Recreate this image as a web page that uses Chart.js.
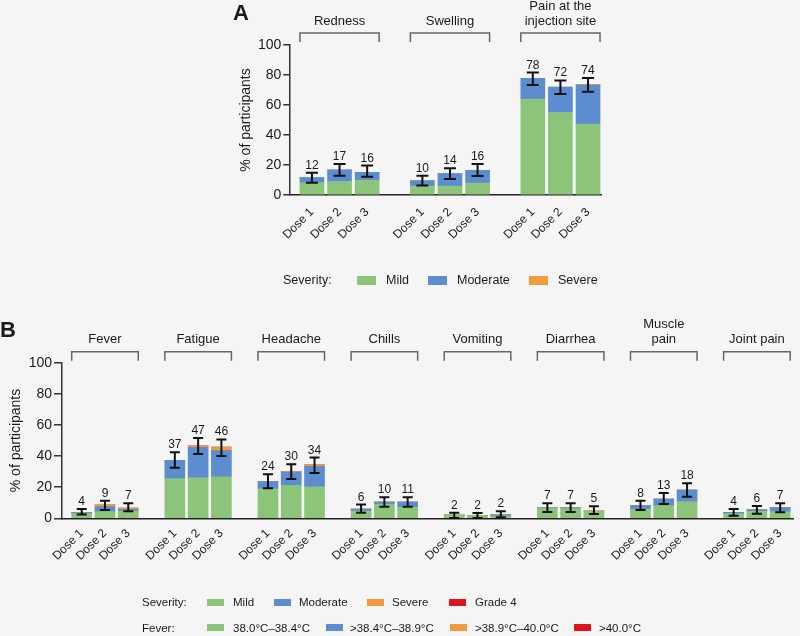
<!DOCTYPE html>
<html><head><meta charset="utf-8">
<script src="https://cdn.jsdelivr.net/npm/chart.js@4"></script>
<style>
html,body{margin:0;padding:0;background:#f5f5f5;}
body{width:800px;height:636px;position:relative;overflow:hidden;font-family:"Liberation Sans",Arial,Helvetica,sans-serif;color:#1a1a1a;}
#wa{position:absolute;left:0;top:0;width:800px;height:300px;}
#wb{position:absolute;left:0;top:300px;width:800px;height:336px;}
.letter{position:absolute;font-weight:bold;font-size:22px;line-height:22px;}
.row{position:absolute;left:0;width:800px;height:16px;}
.row span{position:absolute;top:0;line-height:16px;white-space:nowrap;}
.row i{position:absolute;display:block;}
</style></head><body>
<div id="wa"><canvas id="ca" width="800" height="300"></canvas></div>
<div id="wb"><canvas id="cb" width="800" height="336"></canvas></div>
<div class="letter" style="left:233px;top:2px;">A</div>
<div class="letter" style="left:0px;top:319px;">B</div>
<div id="legends"></div>
<script>
// ---------- DATA ----------
const doseLabels = ["Dose 1", "Dose 2", "Dose 3"];
const severityLabels = ["Mild", "Moderate", "Severe", "Grade 4"];
const feverLabels = ["38.0°C–38.4°C", ">38.4°C–38.9°C", ">38.9°C–40.0°C", ">40.0°C"];

// Panel A: local reactions
const groupsA = [["Redness"], ["Swelling"], ["Pain at the", "injection site"]];
const mildA     = [8.2, 9.0, 10.0, 6.0, 6.0, 8.0, 64.0, 55.0, 47.3];
const moderateA = [3.4, 7.7, 5.1, 3.6, 8.2, 8.4, 13.8, 17.0, 26.0];
const severeA   = [0, 0, 0, 0, 0, 0, 0, 0, 0.5];
const totalsA   = [12, 17, 16, 10, 14, 16, 78, 72, 74];
const errLowA   = [8.2, 12.9, 12.2, 6.4, 10.7, 12.7, 73.3, 67.3, 68.9];
const errHighA  = [14.9, 20.7, 19.6, 12.9, 17.8, 20.7, 81.6, 76.4, 78.0];

// Panel B: systemic events
const groupsB = [["Fever"], ["Fatigue"], ["Headache"], ["Chills"], ["Vomiting"], ["Diarrhea"], ["Muscle", "pain"], ["Joint pain"]];
const mildB     = [3.0, 4.3, 4.7, 25.5, 26.0, 26.6, 19.0, 21.2, 20.3, 4.7, 9.2, 7.1, 2.0, 1.8, 1.5, 6.8, 6.2, 4.7, 5.8, 8.1, 10.7, 3.0, 4.5, 4.3];
const moderateB = [0.6, 3.2, 1.1, 11.8, 19.6, 16.9, 4.6, 8.4, 13.1, 1.3, 1.3, 3.4, 0, 0, 0.8, 0.2, 0.6, 0, 2.3, 4.3, 7.5, 0.9, 0.9, 2.6];
const severeB   = [0, 1.5, 0.8, 0, 0.9, 2.3, 0, 0.4, 0.9, 0, 0, 0, 0, 0, 0, 0, 0, 0, 0, 0, 0, 0, 0, 0];
const grade4B   = [0, 0, 0, 0, 0, 0, 0, 0, 0, 0, 0, 0, 0, 0, 0, 0, 0, 0, 0, 0, 0, 0, 0, 0];
const totalsB   = [4, 9, 7, 37, 47, 46, 24, 30, 34, 6, 10, 11, 2, 2, 2, 7, 7, 5, 8, 13, 18, 4, 6, 7];
const errLowB   = [2.4, 5.4, 4.5, 32.5, 41.3, 40.0, 19.3, 25.3, 29.1, 3.6, 7.5, 7.5, 0.2, 0.2, 0.6, 4.1, 4.1, 2.8, 5.4, 9.2, 13.9, 1.7, 3.0, 3.9];
const errHighB  = [6.0, 11.3, 9.6, 42.4, 51.6, 50.7, 28.3, 34.7, 39.0, 8.8, 13.5, 13.5, 3.6, 3.4, 4.5, 9.6, 9.6, 7.7, 11.3, 16.3, 22.5, 6.0, 7.9, 9.6];

// ---------- STYLE ----------
const COLORS = ["#8cc47a", "#5b8dd0", "#f09c3e", "#dc1420"];
const FONT = '"Liberation Sans", Arial, Helvetica, sans-serif';
const TEXT = "#1a1a1a";

// slot positions: 3 doses per group, one empty slot between groups
function slots(nGroups) { const r = []; for (let g = 0; g < nGroups; g++) for (let d = 0; d < 3; d++) r.push(g * 4 + d + 1); return r; }
const xA = slots(groupsA.length);
const xB = slots(groupsB.length);

function pts(xs, ys) { return xs.map((x, i) => ({ x: x, y: ys[i] })); }

function overlay(cfg) {
  return {
    id: 'overlay' + cfg.key,
    afterDatasetsDraw(chart) {
      const ctx = chart.ctx, xs = chart.scales.x, ys = chart.scales.y;
      ctx.save();
      // error bars + totals
      ctx.strokeStyle = "#111"; ctx.lineWidth = 2;
      ctx.fillStyle = TEXT; ctx.font = cfg.valFont + "px " + FONT;
      ctx.textAlign = "center"; ctx.textBaseline = "alphabetic";
      cfg.xs.forEach((xv, i) => {
        const px = xs.getPixelForValue(xv);
        const lo = ys.getPixelForValue(cfg.lo[i]), hi = ys.getPixelForValue(cfg.hi[i]);
        ctx.beginPath();
        ctx.moveTo(px, lo); ctx.lineTo(px, hi);
        ctx.moveTo(px - cfg.cap / 2, lo); ctx.lineTo(px + cfg.cap / 2, lo);
        ctx.moveTo(px - cfg.cap / 2, hi); ctx.lineTo(px + cfg.cap / 2, hi);
        ctx.stroke();
        ctx.fillText(String(cfg.totals[i]), px, hi - cfg.valGap);
      });
      // group brackets + titles
      ctx.strokeStyle = "#666"; ctx.lineWidth = 1.5;
      ctx.font = cfg.titleFont + "px " + FONT; ctx.textBaseline = "middle";
      cfg.groups.forEach((lines, g) => {
        const x1 = xs.getPixelForValue(cfg.xs[g * 3]) - cfg.bw / 2;
        const x2 = xs.getPixelForValue(cfg.xs[g * 3 + 2]) + cfg.bw / 2;
        ctx.beginPath();
        ctx.moveTo(x1, cfg.brTick); ctx.lineTo(x1, cfg.brY); ctx.lineTo(x2, cfg.brY); ctx.lineTo(x2, cfg.brTick);
        ctx.stroke();
        const cx = (x1 + x2) / 2;
        lines.forEach((t, k) => {
          const ty = cfg.titleY - (lines.length - 1 - k) * cfg.titleLH;
          ctx.fillText(t, cx, ty);
        });
      });
      ctx.restore();
    }
  };
}

function makeChart(el, o) {
  const labelsets = o.labels;
  const datasets = o.series.map((s, k) => ({
    label: labelsets[k], data: pts(o.xs, s), backgroundColor: COLORS[k],
    borderWidth: 0, barThickness: o.bw
  }));
  return new Chart(el, {
    type: 'bar',
    data: { datasets },
    options: {
      responsive: false, animation: false,
      layout: { padding: o.padding },
      plugins: { legend: { display: false }, tooltip: { enabled: false } },
      scales: {
        x: {
          type: 'linear', min: o.xmin, max: o.xmax, stacked: true, offset: false,
          grid: { display: false, drawTicks: false },
          border: { display: true, color: "#222", width: 1.5 },
          afterBuildTicks: s => { s.ticks = o.xs.map(v => ({ value: v })); },
          afterFit: s => { s.height = 60; },
          ticks: {
            autoSkip: false, minRotation: 45, maxRotation: 45, padding: o.xpad,
            color: TEXT, font: { family: FONT, size: 12 },
            callback: (v, i) => doseLabels[i % 3]
          }
        },
        y: {
          min: 0, max: 100, stacked: true,
          grid: { display: true, drawOnChartArea: false, drawTicks: true, tickLength: o.tl, color: "#333", lineWidth: 1.5 },
          border: { display: true, color: "#333", width: 1.5 },
          ticks: { stepSize: 20, padding: 2, color: TEXT, font: { family: FONT, size: 14 } },
          title: { display: true, text: "% of participants", color: TEXT, font: { family: FONT, size: 14 } },
          afterFit: s => { s.width = o.yw; }
        }
      }
    },
    plugins: [overlay(o.overlay)]
  });
}

makeChart(document.getElementById('ca'), {
  xs: xA, labels: severityLabels, series: [mildA, moderateA, severeA], bw: 24,
  padding: { top: 45, left: 233.6, right: 199, bottom: 45 }, yw: 55.7, tl: 6,
  xmin: 0.18, xmax: 11.47, xpad: 10,
  overlay: { key: 'A', xs: xA, lo: errLowA, hi: errHighA, totals: totalsA, cap: 12, bw: 24,
    valFont: 12, valGap: 4, titleFont: 13, groups: groupsA, brY: 33, brTick: 42, titleY: 21.5, titleLH: 15 }
});

makeChart(document.getElementById('cb'), {
  xs: xB, labels: severityLabels, series: [mildB, moderateB, severeB, grade4B], bw: 20,
  padding: { top: 62.7, left: 3.6, right: 7, bottom: 57.7 }, yw: 58.4, tl: 8,
  xmin: 0.154, xmax: 31.55, xpad: 8,
  overlay: { key: 'B', xs: xB, lo: errLowB, hi: errHighB, totals: totalsB, cap: 10, bw: 20,
    valFont: 12, valGap: 4, titleFont: 13, groups: groupsB, brY: 51.7, brTick: 60.7, titleY: 39.5, titleLH: 15 }
});

// ---------- LEGENDS (HTML) ----------
function legendRow(cy, size, head, headX, labels, swX, txtX, sw) {
  const row = document.createElement('div');
  row.className = 'row';
  row.style.top = (cy - 8) + 'px';
  row.style.fontSize = size + 'px';
  const h = document.createElement('span'); h.textContent = head; h.style.left = headX + 'px'; row.appendChild(h);
  labels.forEach((t, k) => {
    const b = document.createElement('i');
    b.style.left = swX[k] + 'px'; b.style.top = (8 - sw[1] / 2) + 'px';
    b.style.width = sw[0] + 'px'; b.style.height = sw[1] + 'px'; b.style.background = COLORS[k];
    row.appendChild(b);
    const s = document.createElement('span'); s.textContent = t; s.style.left = txtX[k] + 'px';
    row.appendChild(s);
  });
  document.getElementById('legends').appendChild(row);
}
legendRow(280, 12.5, "Severity:", 283, severityLabels.slice(0, 3), [357, 428, 529], [386, 457, 558], [19, 9]);
legendRow(602, 11.5, "Severity:", 142, severityLabels, [207, 274, 367, 449], [233, 299, 392, 475], [17, 7]);
legendRow(627.5, 11.5, "Fever:", 142, feverLabels, [207, 326, 450, 574], [233, 350, 475, 599], [17, 7]);
</script>
</body></html>
